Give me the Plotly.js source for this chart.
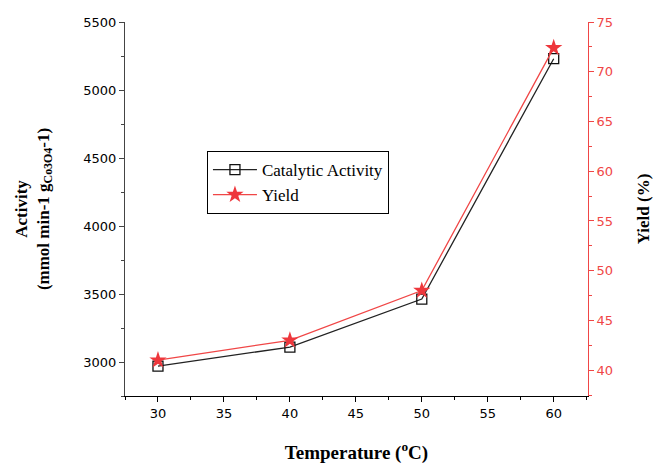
<!DOCTYPE html>
<html><head><meta charset="utf-8">
<script src="https://cdn.plot.ly/plotly-3.0.1.min.js"></script>
<style>body{margin:0;padding:0;background:#fff}#chart{width:654px;height:464px}</style>
</head><body><div id="chart"></div>
<script>
var temperature = [30, 40, 50, 60];
var activity = [2970, 3110, 3463, 5230];
var yieldPct = [41, 43, 48, 72.4];
var xTicks = [30, 35, 40, 45, 50, 55, 60];
var yTicks = [3000, 3500, 4000, 4500, 5000, 5500];
var y2Ticks = [40, 45, 50, 55, 60, 65, 70, 75];

var serif = "Liberation Serif, Times New Roman, serif";
var sans = "DejaVu Sans, sans-serif";
var red = "rgb(240,70,70)";

var traces = [
  {x: temperature, y: activity, name: "Catalytic Activity", type: "scatter", mode: "lines+markers",
   line: {color: "#222", width: 1.3},
   marker: {symbol: "square-open", size: 10, color: "#111", line: {width: 1.3}}},
  {x: temperature, y: yieldPct, name: "Yield", type: "scatter", mode: "lines+markers", yaxis: "y2",
   line: {color: red, width: 1.3},
   marker: {symbol: "star", size: 13, color: "rgb(238,55,60)", line: {width: 0}}}
];

var layout = {
  width: 654, height: 464,
  margin: {l: 125, r: 66, t: 22, b: 68},
  paper_bgcolor: "#fff", plot_bgcolor: "#fff",
  font: {family: serif, size: 14, color: "#000"},
  showlegend: true,
  legend: {x: 0.177, y: 0.655, xanchor: "left", yanchor: "top", bordercolor: "#000", borderwidth: 1,
           bgcolor: "#fff", font: {family: serif, size: 17, color: "#000"}, tracegroupgap: 0, itemwidth: 44},
  xaxis: {range: [27.5, 62.6], tickvals: xTicks, ticks: "outside", ticklen: 5, tickcolor: "#000",
          showline: true, linecolor: "#000", linewidth: 1, showgrid: false, zeroline: false,
          minor: {ticks: "outside", ticklen: 3, dtick: 2.5, tick0: 0, tickcolor: "#000", showgrid: false},
          tickfont: {family: sans, size: 13, color: "#000"},
          title: {text: "<b>Temperature (<sup>o</sup>C)</b>", font: {family: serif, size: 19}, standoff: 27}},
  yaxis: {range: [2750, 5500], tickvals: yTicks, ticks: "outside", ticklen: 5, tickcolor: "#444",
          showline: true, linecolor: "#444", linewidth: 1, showgrid: false, zeroline: false,
          minor: {ticks: "outside", ticklen: 3, dtick: 250, tick0: 0, tickcolor: "#444", showgrid: false},
          tickfont: {family: sans, size: 13, color: "#000"},
          title: {text: "<b>Activity<br>(mmol min-1 g<sub>Co3O4</sub>-1)</b>", font: {family: serif, size: 17}, standoff: 29}},
  yaxis2: {range: [37.4, 75], overlaying: "y", side: "right", tickvals: y2Ticks, ticks: "outside", ticklen: 5,
           tickcolor: red, showline: true, linecolor: red, linewidth: 1, showgrid: false, zeroline: false,
           minor: {ticks: "outside", ticklen: 3, dtick: 2.5, tick0: 0, tickcolor: red, showgrid: false},
           tickfont: {family: sans, size: 13, color: red},
           title: {text: "<b>Yield (%)</b>", font: {family: serif, size: 17, color: "#000"}, standoff: 24}}
};

Plotly.newPlot("chart", traces, layout, {displayModeBar: false, responsive: false});
</script>
</body></html>
